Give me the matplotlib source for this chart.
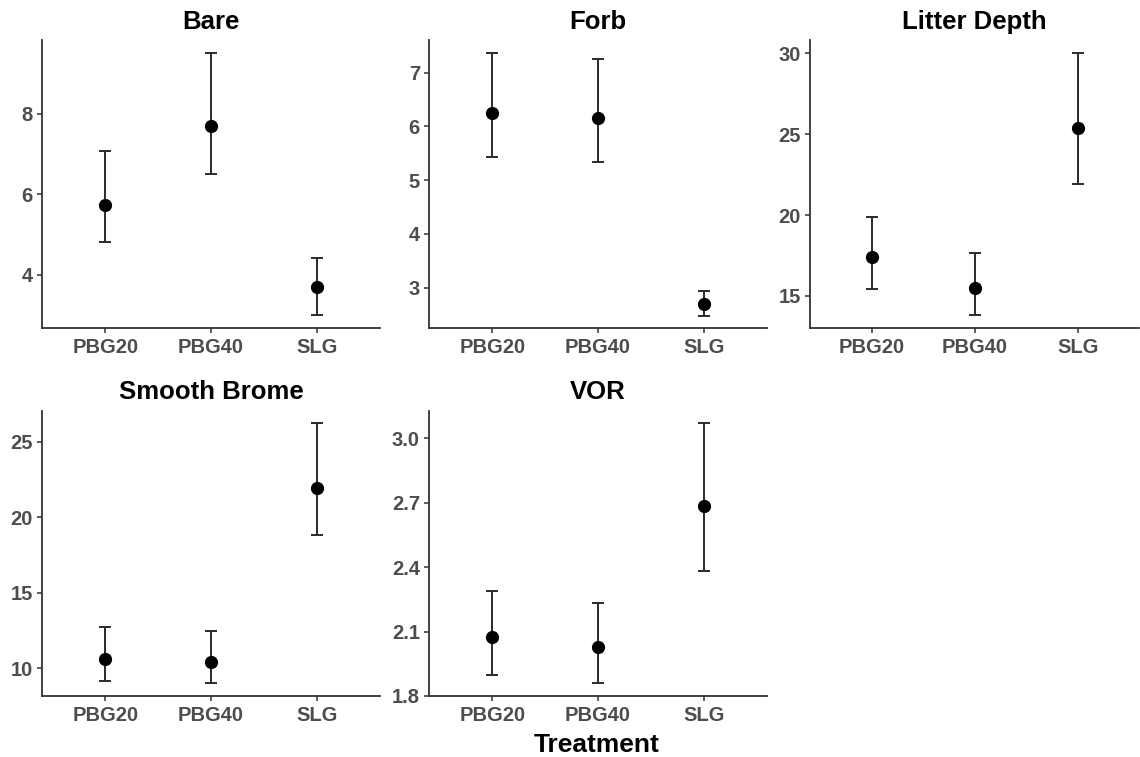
import matplotlib.pyplot as plt

plt.rcParams["font.family"] = ["Liberation Sans", "DejaVu Sans"]
plt.rcParams["font.weight"] = "bold"

treatments = ["PBG20", "PBG40", "SLG"]

bare_mean = [5.73, 7.69, 3.69]
bare_low = [4.81, 6.50, 3.01]
bare_high = [7.09, 9.52, 4.42]

forb_mean = [6.26, 6.16, 2.69]
forb_low = [5.44, 5.33, 2.48]
forb_high = [7.37, 7.26, 2.93]

litter_mean = [17.40, 15.52, 25.35]
litter_low = [15.43, 13.82, 21.95]
litter_high = [19.90, 17.67, 30.00]

brome_mean = [10.64, 10.42, 21.94]
brome_low = [9.18, 9.00, 18.85]
brome_high = [12.76, 12.45, 26.26]

vor_mean = [2.077, 2.027, 2.684]
vor_low = [1.898, 1.859, 2.384]
vor_high = [2.291, 2.232, 3.073]

panels = [
    ("Bare", bare_mean, bare_low, bare_high, [4, 6, 8], None, (2.68, 9.84)),
    ("Forb", forb_mean, forb_low, forb_high, [3, 4, 5, 6, 7], None, (2.25, 7.61)),
    ("Litter Depth", litter_mean, litter_low, litter_high, [15, 20, 25, 30], None, (13.02, 30.82)),
    ("Smooth Brome", brome_mean, brome_low, brome_high, [10, 15, 20, 25], None, (8.17, 27.05)),
    ("VOR", vor_mean, vor_low, vor_high, [1.8, 2.1, 2.4, 2.7, 3.0], "{:.1f}", (1.8, 3.129)),
]

positions = [
    [0.0368, 0.5667, 0.2965, 0.3805],
    [0.3763, 0.5667, 0.2965, 0.3805],
    [0.7105, 0.5667, 0.2890, 0.3805],
    [0.0368, 0.0806, 0.2965, 0.3770],
    [0.3763, 0.0806, 0.2965, 0.3770],
]

fig = plt.figure(figsize=(11.4, 7.57), dpi=100)

for (title, mean, low, high, yticks, fmt, ylim), pos in zip(panels, positions):
    ax = fig.add_axes(pos)
    x = list(range(len(treatments)))
    err = [[m - l for m, l in zip(mean, low)], [h - m for m, h in zip(mean, high)]]
    ax.errorbar(x, mean, yerr=err, fmt="none", ecolor="#2b2b2b",
                elinewidth=1.4, capsize=4, capthick=1.4, zorder=2)
    ax.plot(x, mean, "o", color="black", markersize=8.5, zorder=3)
    ax.set_xlim(-0.6, 2.6)
    ax.set_ylim(*ylim)
    ax.set_xticks(x)
    ax.set_xticklabels(treatments)
    ax.set_yticks(yticks)
    if fmt:
        ax.set_yticklabels([fmt.format(t) for t in yticks])
    ax.set_title(title, fontsize=18.5, fontweight="bold", pad=8)
    for s in ["top", "right"]:
        ax.spines[s].set_visible(False)
    for s in ["left", "bottom"]:
        ax.spines[s].set_color("#333333")
        ax.spines[s].set_linewidth(1.3)
    ax.tick_params(axis="both", colors="#333333", labelcolor="#4d4d4d",
                   labelsize=14.5, length=3.5, width=1.1)
    ax.tick_params(axis="x", pad=4)
    ax.tick_params(axis="y", pad=3)

fig.text(597 / 1140, 1 - 745 / 757, "Treatment", ha="center", va="center",
         fontsize=19, fontweight="bold")

fig.savefig("out.png", dpi=100)
